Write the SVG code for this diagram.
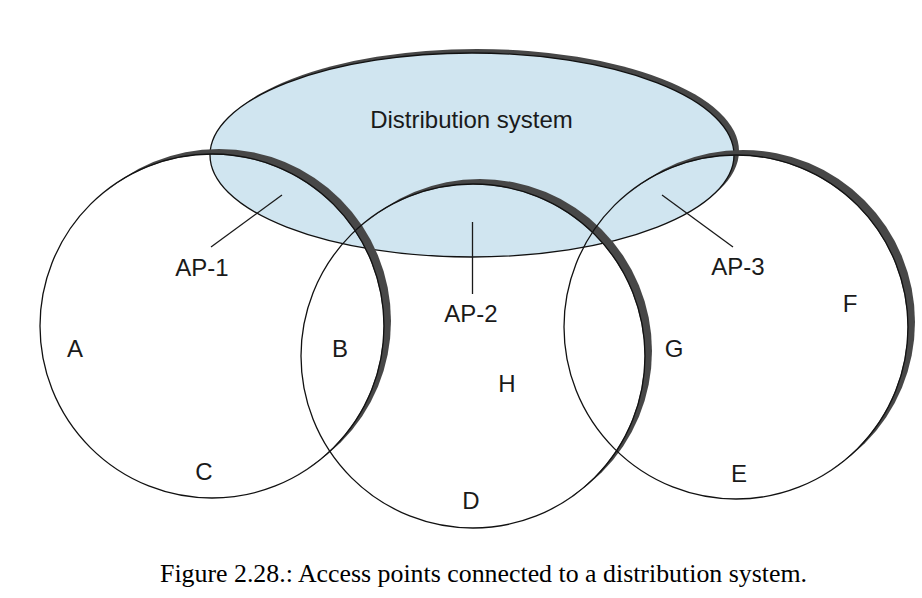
<svg xmlns="http://www.w3.org/2000/svg" width="922" height="598" viewBox="0 0 922 598">
<style>
.lbl{font-family:"Liberation Sans",Arial,sans-serif;font-size:24px;fill:#1a1a1a;text-anchor:middle}
.cap{font-family:"Liberation Serif","Times New Roman",serif;font-size:25px;fill:#000;text-anchor:middle}
.edge{fill:none;stroke:#111;stroke-width:1.3}
.shadow{fill:#474747}
.conn{stroke:#1a1a1a;stroke-width:1.3;fill:none}
</style>
<defs>
<mask id="mE" maskUnits="userSpaceOnUse" x="0" y="0" width="922" height="598"><rect width="922" height="598" fill="#fff"/><ellipse cx="472" cy="155" rx="261.5" ry="101.5" fill="#000"/></mask>
<mask id="m1" maskUnits="userSpaceOnUse" x="0" y="0" width="922" height="598"><rect width="922" height="598" fill="#fff"/><circle cx="212" cy="326" r="171.5" fill="#000"/></mask>
<mask id="m2" maskUnits="userSpaceOnUse" x="0" y="0" width="922" height="598"><rect width="922" height="598" fill="#fff"/><circle cx="473" cy="356" r="171.5" fill="#000"/></mask>
<mask id="m3" maskUnits="userSpaceOnUse" x="0" y="0" width="922" height="598"><rect width="922" height="598" fill="#fff"/><circle cx="736" cy="327" r="171.5" fill="#000"/></mask>
</defs>
<rect width="922" height="598" fill="#fff"/>
<g id="distribution-system">
<ellipse class="shadow" cx="477" cy="151" rx="262" ry="102" mask="url(#mE)"/>
<ellipse cx="472" cy="155" rx="262" ry="102" fill="#d0e5f0" stroke="#111" stroke-width="1.3"/>
<text class="lbl" x="471.5" y="128" font-size="24.5">Distribution system</text>
</g>
<g id="ap1">
<circle class="shadow" cx="219" cy="321" r="172" mask="url(#m1)"/>
<circle class="edge" cx="212" cy="326" r="172"/>
<text class="lbl" x="202" y="276">AP-1</text>
<text class="lbl" x="75" y="357">A</text>
<text class="lbl" x="340" y="357">B</text>
<text class="lbl" x="204" y="480">C</text>
</g>
<g id="ap2">
<circle class="shadow" cx="480" cy="351" r="172" mask="url(#m2)"/>
<circle class="edge" cx="473" cy="356" r="172"/>
<text class="lbl" x="471" y="322">AP-2</text>
<text class="lbl" x="507" y="392">H</text>
<text class="lbl" x="471" y="509">D</text>
</g>
<g id="ap3">
<circle class="shadow" cx="743" cy="322" r="172" mask="url(#m3)"/>
<circle class="edge" cx="736" cy="327" r="172"/>
<text class="lbl" x="738" y="275">AP-3</text>
<text class="lbl" x="850" y="312">F</text>
<text class="lbl" x="674" y="357">G</text>
<text class="lbl" x="739" y="482">E</text>
</g>
<g id="connectors">
<line class="conn" x1="211" y1="247" x2="282" y2="195"/>
<line class="conn" x1="472.5" y1="222" x2="472.5" y2="294"/>
<line class="conn" x1="662" y1="195" x2="733" y2="247"/>
</g>
<text class="cap" x="483.5" y="582" textLength="647" lengthAdjust="spacingAndGlyphs">Figure 2.28.: Access points connected to a distribution system.</text>
</svg>
